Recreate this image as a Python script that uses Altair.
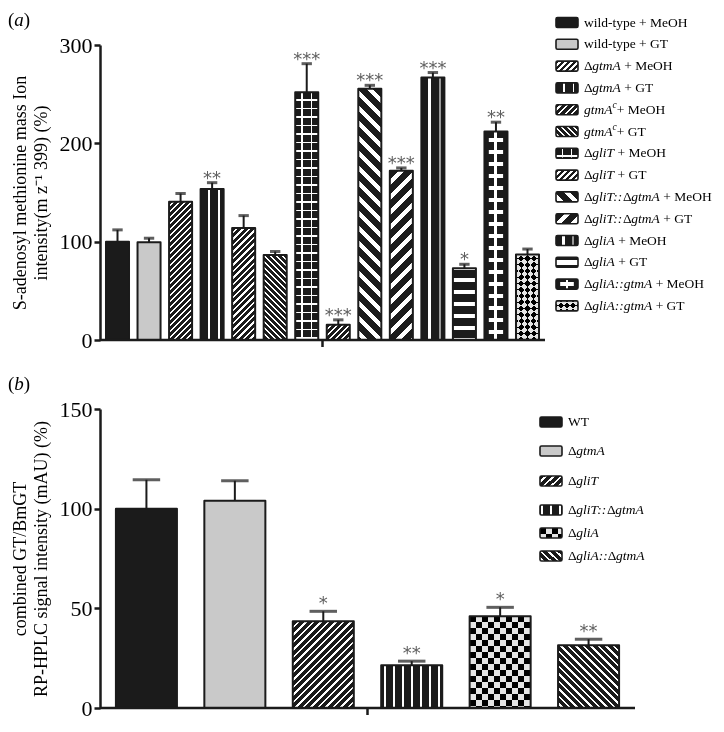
import altair as alt
import pandas as pd

FONT = "Liberation Serif"
INK = "#1b1b1b"
GREY = "#c9c9c9"
WHITE = "#ffffff"
CLEAR = "rgba(255,255,255,0)"
STAR = "#606060"

# ---------------- panel (a) data ----------------
a_groups = ["wild-type + MeOH", "wild-type + GT", "ΔgtmA + MeOH", "ΔgtmA + GT",
            "gtmAc+ MeOH", "gtmAc+ GT", "ΔgliT + MeOH", "ΔgliT + GT",
            "ΔgliT::ΔgtmA + MeOH", "ΔgliT::ΔgtmA + GT", "ΔgliA + MeOH", "ΔgliA + GT",
            "ΔgliA::gtmA + MeOH", "ΔgliA::gtmA + GT"]
a_values = [100, 99.5, 140.5, 153.5, 114, 86.5, 252, 15.5, 255.5, 172, 267, 73, 212, 87]
a_errors = [12, 4, 8.5, 6.5, 12.5, 3.5, 29, 5, 3.5, 3, 5, 4, 9.5, 5.5]
a_stars = ["", "", "", "**", "", "", "***", "***", "***", "***", "***", "*", "**", ""]
a_ticks = [0, 100, 200, 300]
a_title = ["S-adenosyl methionine mass Ion", "intensity(m z\u207b\u00b9 399) (%)"]
a_legend = [
    [("wild-type + MeOH", "n")],
    [("wild-type + GT", "n")],
    [("Δ", "n"), ("gtmA", "i"), (" + MeOH", "n")],
    [("Δ", "n"), ("gtmA", "i"), (" + GT", "n")],
    [("gtmA", "i"), ("c", "s"), ("+ MeOH", "n")],
    [("gtmA", "i"), ("c", "s"), ("+ GT", "n")],
    [("Δ", "n"), ("gliT", "i"), (" + MeOH", "n")],
    [("Δ", "n"), ("gliT", "i"), (" + GT", "n")],
    [("Δ", "n"), ("gliT::", "i"), ("Δ", "n"), ("gtmA", "i"), (" + MeOH", "n")],
    [("Δ", "n"), ("gliT::", "i"), ("Δ", "n"), ("gtmA", "i"), (" + GT", "n")],
    [("Δ", "n"), ("gliA", "i"), (" + MeOH", "n")],
    [("Δ", "n"), ("gliA", "i"), (" + GT", "n")],
    [("Δ", "n"), ("gliA::gtmA", "i"), (" + MeOH", "n")],
    [("Δ", "n"), ("gliA::gtmA", "i"), (" + GT", "n")],
]

# ---------------- panel (b) data ----------------
b_groups = ["WT", "ΔgtmA", "ΔgliT", "ΔgliT::ΔgtmA", "ΔgliA", "ΔgliA::ΔgtmA"]
b_values = [100, 104, 43.5, 21.5, 46, 31.5]
b_errors = [14.5, 10, 5, 2, 4.5, 3]
b_stars = ["", "", "*", "**", "*", "**"]
b_ticks = [0, 50, 100, 150]
b_title = ["combined GT/BmGT", "RP-HPLC signal intensity (mAU) (%)"]
b_legend = [
    [("WT", "n")],
    [("Δ", "n"), ("gtmA", "i")],
    [("Δ", "n"), ("gliT", "i")],
    [("Δ", "n"), ("gliT::", "i"), ("Δ", "n"), ("gtmA", "i")],
    [("Δ", "n"), ("gliA", "i")],
    [("Δ", "n"), ("gliA::", "i"), ("Δ", "n"), ("gtmA", "i")],
]

# ---------------- fill styles (patterns) ----------------
a_pats = [
    ("solid", INK), ("solid", GREY), ("diag", "/", 6.0, 2.2),
    ("vl", [0.36, 0.79], [1.6, 1.6], [WHITE, WHITE]),
    ("diag", "/", 6.5, 2.2), ("diag", "\\", 6.0, 2.0),
    ("grid", [0.3, 0.7], 1.5, 8.5, 1.5), ("diag", "/", 6.0, 2.2),
    ("diag", "\\", 15.0, 6.0), ("diag", "/", 15.0, 6.0),
    ("vl", [0.36, 0.79], [3.0, 2.0], [WHITE, "#9a9a9a"]),
    ("hs", 12.0, 4.5), ("cross", 3.0, 12.0, 4.0, 0.62), ("diamond", 12.5),
]
b_pats = [
    ("solid", INK), ("solid", GREY), ("diag", "/", 7.5, 2.5),
    ("vper", 9.0, 2.0), ("checker", 6.0), ("diag", "\\", 7.5, 2.5),
]

REG = {' ': 250, '+': 564, '-': 333, ':': 278, 'Δ': 612, 'A': 722, 'G': 722, 'H': 722,
       'M': 889, 'O': 722, 'T': 611, 'W': 944, 'd': 500, 'e': 444, 'i': 278, 'l': 278,
       'p': 500, 't': 278, 'w': 722, 'y': 500, '(': 333, ')': 333}
ITA = {'g': 500, 't': 278, 'm': 722, 'A': 611, 'l': 278, 'i': 278, 'T': 556, 'c': 444,
       ':': 333, 'a': 500, 'b': 500}


def text_width(t, style, fs):
    table = REG if style == "n" else ITA
    return sum(table.get(ch, 500) for ch in t) * fs / 1000.0


def clip(segs, L):
    out = []
    for s, e, c in segs:
        s2, e2 = max(s, 0.0), min(e, L)
        if e2 > s2:
            out.append((s2, e2, c))
    return out


def periodic(P, on, fg, bg, center=False):
    def f(L):
        phase = ((P - on / 2.0) - L / 2.0) % P if center else 0.0
        out, x = [], -phase
        while x < L:
            out.append((x, x + P - on, bg))
            out.append((x + P - on, x + P, fg))
            x += P
        return clip(out, L)
    return f


def lines(fracs, lws, cols, bg):
    def f(L):
        out, prev = [], 0.0
        for fr, lw, c in zip(fracs, lws, cols):
            s, e = fr * L - lw / 2.0, fr * L + lw / 2.0
            out.append((prev, s, bg))
            out.append((s, e, c))
            prev = e
        out.append((prev, L, bg))
        return clip(out, L)
    return f


def grad(kind, w, h, segfn):
    if kind == "x":
        coords, L = dict(x1=0, y1=0, x2=1, y2=0), w
    elif kind == "y":
        coords, L = dict(x1=0, y1=0, x2=0, y2=1), h
    else:
        k = (w + h) / (w * w + h * h)
        L = w + h
        if kind == "/":
            coords = dict(x1=0, y1=0, x2=round(w * k, 5), y2=round(h * k, 5))
        else:
            coords = dict(x1=1, y1=0, x2=round(1 - w * k, 5), y2=round(h * k, 5))
    stops = []
    for s, e, c in segfn(L):
        stops.append({"offset": round(s / L, 5), "color": c})
        stops.append({"offset": round(e / L, 5), "color": c})
    g = {"gradient": "linear", "stops": stops}
    g.update(coords)
    return g


def fills(desc, w, h):
    kind = desc[0]
    if kind == "solid":
        return [dict(fill=desc[1])]
    if kind == "diag":
        _, d, P, on = desc
        return [dict(fill=grad(d, w, h, periodic(P, on, WHITE, INK)))]
    if kind == "vl":
        _, fr, lws, cols = desc
        return [dict(fill=grad("x", w, h, lines(fr, lws, cols, INK)))]
    if kind == "vper":
        _, P, on = desc
        return [dict(fill=grad("x", w, h, periodic(P, on, WHITE, INK, center=True)))]
    if kind == "hs":
        _, P, on = desc
        return [dict(fill=grad("y", w, h, periodic(P, on, WHITE, INK, center=True)))]
    if kind == "grid":
        _, fr, lw, P, on = desc
        n = len(fr)
        return [dict(fill=grad("x", w, h, lines(fr, [lw] * n, [WHITE] * n, INK))),
                dict(fill=grad("y", w, h, periodic(P, on, WHITE, CLEAR)))]
    if kind == "cross":
        _, lw, P, on, band = desc
        return [dict(fill=grad("x", w, h, lines([0.5], [lw], [WHITE], INK))),
                dict(fill=grad("y", w * band, h, periodic(P, on, WHITE, CLEAR, center=True)), band=band)]
    if kind == "checker":
        _, s = desc
        return [dict(fill=grad("x", w, h, periodic(2 * s, s, WHITE, INK))),
                dict(fill=grad("y", w, h, periodic(2 * s, s, WHITE, INK)), blend="difference")]
    if kind == "diamond":
        _, P = desc
        return [dict(fill=grad("/", w, h, periodic(P, P / 2, WHITE, INK))),
                dict(fill=grad("\\", w, h, periodic(P, P / 2, WHITE, INK)), blend="difference")]
    return [dict(fill=INK)]


DUMMY = pd.DataFrame({"k": [0]})


def text_run(parts, x0, y, fs):
    out, cx = [], x0
    for t, style in parts:
        size = fs * 0.7 if style == "s" else fs
        lead = len(t) - len(t.lstrip(" "))
        cx += text_width(" " * lead, style, size)
        core = t.strip(" ")
        if core:
            mk = dict(align="left", baseline="middle", font=FONT, fontSize=size,
                      fontStyle="normal" if style == "n" else "italic", color="black")
            if style == "s":
                mk["dy"] = -5
            out.append(alt.Chart(DUMMY).mark_text(**mk).encode(
                x=alt.value(round(cx, 2)), y=alt.value(y), text=alt.value(core)))
        cx += text_width(core, style, size)
        trail = len(t) - len(t.rstrip(" ")) if core else 0
        cx += text_width(" " * trail, style, size)
    return out


def panel(groups, values, errors, stars, ticks, ymax, W, H, pin, pout, pats, title,
          legend, leg_x, leg_tx, leg_y, leg_fs, tag, star_dy):
    n = len(groups)
    step = W / (n - pin + 2 * pout)
    bw = step * (1 - pin)
    df = pd.DataFrame({"grp": groups, "value": values, "err": errors, "stars": stars})
    df["top"] = df["value"] + df["err"]

    xs = alt.Scale(domain=groups, paddingInner=pin, paddingOuter=pout)
    ys = alt.Scale(domain=[0, ymax], nice=False, zero=True)
    yaxis = alt.Axis(values=ticks, title=title, titleFont=FONT, titleFontSize=18,
                     titleFontWeight="normal", titleColor="black", titlePadding=9,
                     titleLineHeight=21, labelFont=FONT, labelFontSize=22,
                     labelColor="black", labelPadding=2, tickSize=6, tickWidth=2.5,
                     tickColor=INK, domainColor=INK, domainWidth=2.5, grid=False)
    X = alt.X("grp:N", scale=xs, axis=None)
    Yv = alt.Y("value:Q", scale=ys, axis=yaxis)
    Yt = alt.Y("top:Q", scale=ys, axis=yaxis)

    layers = []
    for i in range(n):
        row = df.iloc[[i]]
        hpx = values[i] / ymax * H
        for f in fills(pats[i], bw, hpx):
            mk = dict(fill=f["fill"])
            if "blend" in f:
                mk["blend"] = f["blend"]
            if "band" in f:
                mk["width"] = alt.RelativeBandSize(band=f["band"])
            layers.append(alt.Chart(row).mark_bar(**mk).encode(x=X, y=Yv))
        layers.append(alt.Chart(row).mark_bar(fill=INK, fillOpacity=0, stroke=INK,
                                              strokeWidth=2, strokeJoin="round").encode(x=X, y=Yv))
    base = alt.Chart(df)
    layers.append(base.mark_rule(color=INK, strokeWidth=2).encode(x=X, y=Yv, y2="top:Q"))
    layers.append(base.mark_tick(color=INK, thickness=3, size=bw * 0.45).encode(x=X, y=Yt))
    layers.append(base.mark_text(font="DejaVu Sans", fontSize=18, color=STAR,
                                 baseline="alphabetic", dy=star_dy).encode(x=X, y=Yt, text="stars:N"))
    # x axis line and its single centre tick
    layers.append(alt.Chart(DUMMY).mark_rule(color=INK, strokeWidth=2.5).encode(
        x=alt.value(0), x2=alt.value(W), y=alt.value(H)))
    layers.append(alt.Chart(DUMMY).mark_rule(color=INK, strokeWidth=2.5).encode(
        x=alt.value(W / 2), y=alt.value(H), y2=alt.value(H + 7)))

    # legend
    sw, sh = 22, 10
    for i, parts in enumerate(legend):
        y = leg_y[i]
        for f in fills(pats[i], sw, sh):
            mk = dict(fill=f["fill"])
            if "blend" in f:
                mk["blend"] = f["blend"]
            x0, x1 = leg_x, leg_x + sw
            if "band" in f:
                x0 = leg_x + sw * (1 - f["band"]) / 2
                x1 = x0 + sw * f["band"]
            layers.append(alt.Chart(DUMMY).mark_rect(**mk).encode(
                x=alt.value(x0), x2=alt.value(x1), y=alt.value(y - sh / 2), y2=alt.value(y + sh / 2)))
        layers.append(alt.Chart(DUMMY).mark_rect(fill=INK, fillOpacity=0, stroke=INK, strokeWidth=1.6,
                                                 cornerRadius=1.5).encode(
            x=alt.value(leg_x), x2=alt.value(leg_x + sw), y=alt.value(y - sh / 2), y2=alt.value(y + sh / 2)))
        layers.extend(text_run(parts, leg_tx, y, leg_fs))

    layers.extend(text_run([("(", "n"), (tag, "i"), (")", "n")], -92, -25, 19))
    return alt.layer(*layers).properties(width=W, height=H)


A_W, A_H = 445, 295
B_W, B_H = 535, 299

a_leg_y = [-22.5 + 21.8 * i for i in range(len(a_legend))]
b_leg_y = [13, 42, 72, 101, 124, 147]

pa = panel(a_groups, a_values, a_errors, a_stars, a_ticks, 300, A_W, A_H, 0.27, 0.19, a_pats,
           a_title, a_legend, 456, 484, a_leg_y, 13.5, "a", 1)
pb = panel(b_groups, b_values, b_errors, b_stars, b_ticks, 150, B_W, B_H, 0.31, 0.18, b_pats,
           b_title, b_legend, 440, 468, b_leg_y, 13.5, "b", -2)

chart = alt.vconcat(pa, pb, spacing=24).properties(
    padding={"top": 3, "left": 0, "right": 0, "bottom": 0}
).configure_view(strokeWidth=0)

chart.save("out.html", embed_options={"renderer": "svg", "actions": False})
